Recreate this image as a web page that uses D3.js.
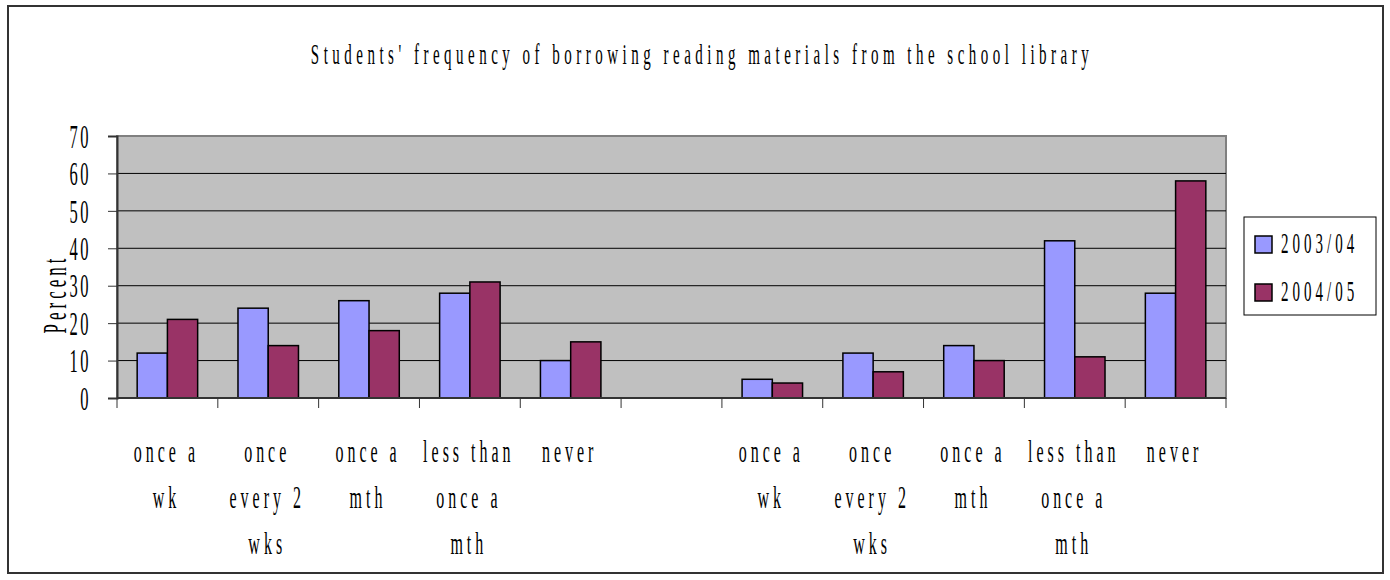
<!DOCTYPE html>
<html>
<head>
<meta charset="utf-8">
<script src="https://cdn.jsdelivr.net/npm/d3@7"></script>
<style>
  body { margin: 0; background: #fff; }
  text { font-family: "Liberation Serif", "Times New Roman", serif; fill: #000; }
</style>
</head>
<body>
<script>
// data
const categories = [
  "once a\nwk", "once\nevery 2\nwks", "once a\nmth", "less than\nonce a\nmth", "never",
  "",
  "once a\nwk", "once\nevery 2\nwks", "once a\nmth", "less than\nonce a\nmth", "never"
]
const series = ["2003/04", "2004/05"]
const values2003 = [12, 24, 26, 28, 10, null, 5, 12, 14, 42, 28]
const values2004 = [21, 14, 18, 31, 15, null, 4, 7, 10, 11, 58]
const yTicks = [0, 10, 20, 30, 40, 50, 60, 70]
const colors = {"2003/04": "#9999ff", "2004/05": "#993366"}

const W = 1390, H = 580
const sx = 0.5   // narrow lettering, as in the picture

const svg = d3.select("body").append("svg")
  .attr("width", W)
  .attr("height", H)

// chart border
svg.append("rect")
  .attr("x", 8).attr("y", 6)
  .attr("width", 1375).attr("height", 567)
  .attr("fill", "#fff")
  .attr("stroke", "#333")
  .attr("stroke-width", 2)

function label(g, str, x, y, size, spacing, anchor){
  return g.append("text")
    .text(str)
    .attr("transform", "translate(" + x + "," + y + ") scale(" + sx + ",1)")
    .attr("font-size", size)
    .attr("letter-spacing", spacing)
    .attr("text-anchor", anchor || "middle")
}

label(svg, "Students' frequency of borrowing reading materials from the school library", 702, 64, 30, 9)

const plot = {left: 117, right: 1226, top: 136, bottom: 398}

const x = d3.scaleBand()
  .domain(d3.range(categories.length))
  .range([plot.left, plot.right])
  .padding(0)

const xs = d3.scaleBand()
  .domain(series)
  .range([0, x.bandwidth()])
  .paddingInner(0)
  .paddingOuter(0.667)

const y = d3.scaleLinear()
  .domain([0, 70])
  .range([plot.bottom, plot.top])

// plot area
svg.append("rect")
  .attr("x", plot.left).attr("y", plot.top)
  .attr("width", plot.right - plot.left).attr("height", plot.bottom - plot.top)
  .attr("fill", "#c0c0c0")
  .attr("stroke", "#808080")
  .attr("stroke-width", 2)

// gridlines
svg.append("g")
  .selectAll("line").data(yTicks.filter(t => t > 0 && t < 70))
  .enter().append("line")
    .attr("x1", plot.left).attr("x2", plot.right)
    .attr("y1", d => y(d)).attr("y2", d => y(d))
    .attr("stroke", "#000")
    .attr("stroke-width", 1)

// bars
const data = []
categories.forEach((c, i) => {
  if(values2003[i] != null) data.push({i: i, s: series[0], v: values2003[i]})
  if(values2004[i] != null) data.push({i: i, s: series[1], v: values2004[i]})
})

svg.append("g")
  .selectAll("rect").data(data)
  .enter().append("rect")
    .attr("x", d => x(d.i) + xs(d.s))
    .attr("y", d => y(d.v))
    .attr("width", xs.bandwidth())
    .attr("height", d => y(0) - y(d.v))
    .attr("fill", d => colors[d.s])
    .attr("stroke", "#000")
    .attr("stroke-width", 1.5)

// y axis
const yAxis = svg.append("g")
  .attr("transform", "translate(" + plot.left + ",0)")
  .call(d3.axisLeft(y).tickValues(yTicks).tickSize(9).tickFormat(d3.format("d")))
yAxis.select(".domain").attr("stroke", "#333").attr("stroke-width", 2)
yAxis.selectAll(".tick line").attr("stroke", "#333")
yAxis.selectAll(".tick text")
  .attr("font-family", null)
  .attr("font-size", 33)
  .attr("letter-spacing", 5)
  .attr("x", -26 / sx)
  .attr("dy", "0.34em")
  .attr("transform", "scale(" + sx + ",1)")

// x axis ticks
const xAxis = svg.append("g")
  .attr("transform", "translate(0," + plot.bottom + ")")
xAxis.append("line")
  .attr("x1", plot.left).attr("x2", plot.right)
  .attr("stroke", "#333").attr("stroke-width", 2)
xAxis.selectAll("line.tk").data(d3.range(categories.length + 1))
  .enter().append("line")
    .attr("class", "tk")
    .attr("x1", d => plot.left + d * x.step()).attr("x2", d => plot.left + d * x.step())
    .attr("y1", 0).attr("y2", 10)
    .attr("stroke", "#333")

// category labels
const catG = svg.append("g")
categories.forEach((c, i) => {
  c.split("\n").forEach((line, k) => {
    if(line) label(catG, line, x(i) + x.bandwidth() / 2 - 1, 462 + k * 46, 32, 8)
  })
})

// y title
svg.append("text")
  .text("Percent")
  .attr("transform", "translate(66,294) rotate(-90) scale(" + sx + ",1)")
  .attr("font-size", 34)
  .attr("letter-spacing", 8)
  .attr("text-anchor", "middle")

// legend
const legend = svg.append("g")
legend.append("rect")
  .attr("x", 1244).attr("y", 217)
  .attr("width", 132).attr("height", 98)
  .attr("fill", "#fff")
  .attr("stroke", "#000")
  .attr("stroke-width", 1)

const items = legend.selectAll("g.item").data(series)
  .enter().append("g")
    .attr("class", "item")
    .attr("transform", (d, i) => "translate(1255," + (236 + i * 48) + ")")
items.append("rect")
  .attr("width", 17).attr("height", 17)
  .attr("fill", d => colors[d])
  .attr("stroke", "#000")
  .attr("stroke-width", 1.5)
items.each(function(d){
  label(d3.select(this), d, 26, 17, 30, 8, "start")
})
</script>
</body>
</html>
